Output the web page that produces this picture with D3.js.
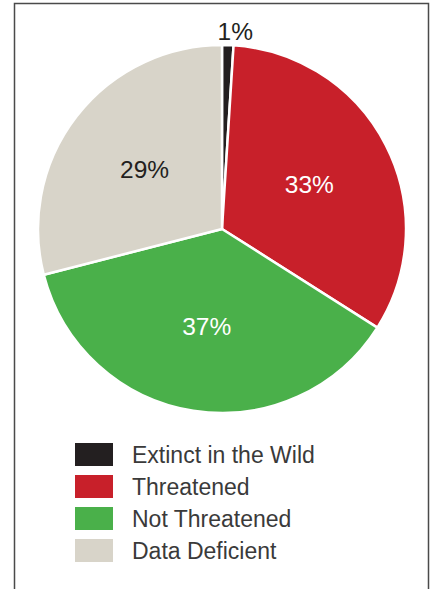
<!DOCTYPE html>
<html>
<head>
<meta charset="utf-8">
<script src="https://cdn.jsdelivr.net/npm/d3@7"></script>
<style>
  body { margin: 0; background: #fff; }
  svg { display: block; }
</style>
</head>
<body>
<div id="chart"></div>
<script>
// status categories, clockwise from 12 o'clock
const categories = ["Extinct in the Wild", "Threatened", "Not Threatened", "Data Deficient"];
const values = [1, 33, 37, 29];
const colors = ["#231f20", "#c8202a", "#4ab04a", "#d8d4c9"];
const labelColors = ["#231f20", "#ffffff", "#ffffff", "#231f20"];

const width = 432, height = 589;
const cx = 222, cy = 229, radius = 184;

const svg = d3.select("#chart").append("svg")
    .attr("width", width)
    .attr("height", height);

// frame, open at the bottom
svg.append("path")
    .attr("d", "M14.5," + height + " V3.5 H428.5 V" + height)
    .attr("fill", "none")
    .attr("stroke", "#4a4a4a")
    .attr("stroke-width", 1.5);

const data = categories.map((c, i) => ({name: c, value: values[i], color: colors[i], label: labelColors[i]}));

const pie = d3.pie().sort(null).value(d => d.value);
const arc = d3.arc().innerRadius(0).outerRadius(radius);
const labelArc = d3.arc().innerRadius(98).outerRadius(98);
const outerArc = d3.arc().innerRadius(198).outerRadius(198);

const pieG = svg.append("g")
    .attr("transform", "translate(" + cx + "," + cy + ")");

const arcs = pie(data);

pieG.selectAll(".slice")
    .data(arcs)
    .join("path")
    .attr("class", "slice")
    .attr("d", arc)
    .attr("fill", d => d.data.color)
    .attr("stroke", "#fff")
    .attr("stroke-width", 2.5)
    .attr("stroke-linejoin", "round");

pieG.selectAll(".pct")
    .data(arcs)
    .join("text")
    .attr("class", "pct")
    .attr("transform", d => {
        // tiny slice gets its label outside the pie, nudged right
        const p = d.data.value < 5 ? outerArc.centroid(d) : labelArc.centroid(d);
        const nudge = d.data.value < 5 ? 7 : 0;
        return "translate(" + (p[0] + nudge) + "," + p[1] + ")";
    })
    .attr("dy", "0.36em")
    .attr("text-anchor", "middle")
    .attr("font-family", "Liberation Sans, Arial, sans-serif")
    .attr("font-size", "24.5px")
    .attr("fill", d => d.data.value < 5 ? "#231f20" : d.data.label)
    .text(d => d.data.value + "%");

// legend
const legend = svg.append("g")
    .attr("transform", "translate(75,443)");

const rows = legend.selectAll(".legendRow")
    .data(data)
    .join("g")
    .attr("class", "legendRow")
    .attr("transform", (d, i) => "translate(0," + (i * 32) + ")");

rows.append("rect")
    .attr("width", 38)
    .attr("height", 23)
    .attr("fill", d => d.color);

rows.append("text")
    .attr("x", 57)
    .attr("y", 11.5)
    .attr("dy", "0.36em")
    .attr("font-family", "Liberation Sans, Arial, sans-serif")
    .attr("font-size", "23px")
    .attr("fill", "#3a3a3a")
    .text(d => d.name);
</script>
</body>
</html>
